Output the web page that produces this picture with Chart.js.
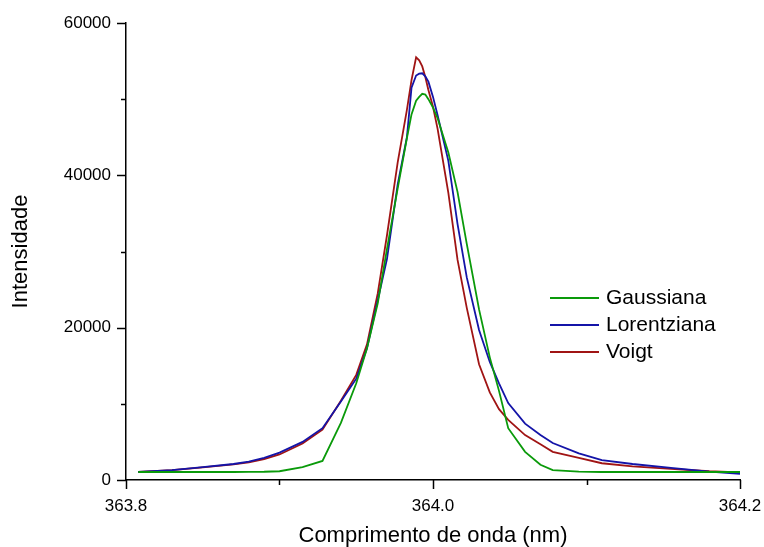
<!DOCTYPE html>
<html>
<head>
<meta charset="utf-8">
<script src="https://cdn.jsdelivr.net/npm/chart.js@4.4.1/dist/chart.umd.min.js"></script>
<style>
  html, body { margin: 0; padding: 0; background: #fff; }
  #wrap { width: 764px; height: 547px; position: relative; }
</style>
</head>
<body>
<div id="wrap"><canvas id="grafico"></canvas></div>
<script>
// ================= DATOS =================
const comprimento = [363.808, 363.83, 363.85, 363.87, 363.88, 363.89, 363.9, 363.915, 363.928, 363.94,
  363.95, 363.957, 363.964, 363.97, 363.977, 363.983, 363.986, 363.989, 363.991, 363.993,
  363.995, 363.997, 364.0, 364.003, 364.01, 364.016, 364.022, 364.03, 364.037, 364.043,
  364.049, 364.06, 364.07, 364.078, 364.095, 364.11, 364.13, 364.155, 364.18, 364.2];

const gaussiana = [1050, 1050, 1050, 1050, 1060, 1080, 1150, 1700, 2500, 7500,
  12700, 17300, 23200, 30300, 38300, 44900, 48000, 49800, 50300, 50700,
  50600, 50000, 48900, 47500, 43000, 37800, 31000, 22400, 16100, 11700,
  6800, 3700, 2000, 1300, 1100, 1050, 1050, 1050, 1050, 1050];

const lorentziana = [1050, 1300, 1700, 2100, 2400, 2900, 3600, 5000, 6800, 10300,
  13300, 17300, 23600, 29000, 38800, 45000, 51500, 53100, 53350, 53400,
  53000, 52300, 50300, 47900, 41900, 33600, 26600, 19700, 15500, 12700,
  10100, 7400, 5900, 4850, 3500, 2600, 2100, 1600, 1100, 800];

const voigt = [1050, 1300, 1650, 2050, 2300, 2750, 3350, 4800, 6600, 10400,
  13800, 17800, 24500, 32100, 41700, 48600, 52500, 55500, 55100, 54300,
  52900, 51200, 49000, 46100, 37700, 28900, 22600, 15200, 11500, 9300,
  7900, 5900, 4700, 3700, 2900, 2200, 1800, 1450, 1150, 1000];

const series = [
  { nome: "Gaussiana", valores: gaussiana, cor: "#0a9a0a" },
  { nome: "Lorentziana", valores: lorentziana, cor: "#1414a8" },
  { nome: "Voigt", valores: voigt, cor: "#a01414" }
];

const ticksX = [363.8, 363.9, 364.0, 364.1, 364.2];
const rotulosX = ["363.8", "", "364.0", "", "364.2"];
const ticksY = [0, 10000, 20000, 30000, 40000, 50000, 60000];
const rotulosY = ["0", "", "20000", "", "40000", "", "60000"];

const FONTE = "'Liberation Sans', Arial, sans-serif";

// ================= PLUGIN: marcas, títulos e legenda =================
const extras = {
  id: "extras",
  afterDraw(chart) {
    const ctx = chart.ctx;
    const sx = chart.scales.x, sy = chart.scales.y;
    const area = chart.chartArea;
    ctx.save();
    ctx.strokeStyle = "#000";
    ctx.lineWidth = 1.5;
    // marcas do eixo x
    ticksX.forEach((v, i) => {
      const px = Math.round(sx.getPixelForValue(v)) + 0.5;
      const len = rotulosX[i] ? 9 : 5;
      ctx.beginPath();
      ctx.moveTo(px, area.bottom);
      ctx.lineTo(px, area.bottom + len);
      ctx.stroke();
    });
    // marcas do eixo y
    ticksY.forEach((v, i) => {
      const py = Math.round(sy.getPixelForValue(v)) + 0.5;
      const len = rotulosY[i] ? 9 : 5;
      ctx.beginPath();
      ctx.moveTo(area.left, py);
      ctx.lineTo(area.left - len, py);
      ctx.stroke();
    });

    // títulos dos eixos
    ctx.fillStyle = "#000";
    ctx.font = "22px " + FONTE;
    ctx.textAlign = "center";
    ctx.textBaseline = "middle";
    ctx.fillText("Comprimento de onda (nm)", (area.left + area.right) / 2, 536);
    ctx.translate(21, (area.top + area.bottom) / 2);
    ctx.rotate(-Math.PI / 2);
    ctx.fillText("Intensidade", 0, 0);
    ctx.setTransform(1, 0, 0, 1, 0, 0);

    // legenda
    ctx.textAlign = "left";
    ctx.font = "21px " + FONTE;
    series.forEach((s, i) => {
      const y = 298 + i * 27;
      ctx.strokeStyle = s.cor;
      ctx.lineWidth = 2;
      ctx.beginPath();
      ctx.moveTo(550, y);
      ctx.lineTo(599, y);
      ctx.stroke();
      ctx.fillStyle = "#000";
      ctx.fillText(s.nome, 606, y);
    });
    ctx.restore();
  }
};

// ================= GRÁFICO =================
new Chart(document.getElementById("grafico"), {
  type: "line",
  data: {
    datasets: series.map(s => ({
      label: s.nome,
      data: comprimento.map((x, i) => ({ x, y: s.valores[i] })),
      borderColor: s.cor,
      borderWidth: 1.8,
      pointRadius: 0,
      fill: false,
      tension: 0
    }))
  },
  options: {
    responsive: true,
    maintainAspectRatio: false,
    animation: false,
    layout: { padding: { top: 23, right: 24, left: 0, bottom: 0 } },
    plugins: { legend: { display: false }, tooltip: { enabled: false } },
    scales: {
      x: {
        type: "linear",
        min: 363.8,
        max: 364.2,
        afterFit: s => { s.height = 67; s.paddingLeft = 0; s.paddingRight = 0; },
        afterBuildTicks: s => { s.ticks = ticksX.map(v => ({ value: v })); },
        grid: { display: false, drawTicks: false },
        border: { display: true, color: "#000", width: 1.5 },
        ticks: {
          padding: 16,
          color: "#000",
          font: { family: FONTE, size: 17 },
          maxRotation: 0,
          callback: (v, i) => rotulosX[i]
        }
      },
      y: {
        min: 0,
        max: 60000,
        afterFit: s => { s.width = 126; s.paddingTop = 0; s.paddingBottom = 0; },
        afterBuildTicks: s => { s.ticks = ticksY.map(v => ({ value: v })); },
        grid: { display: false, drawTicks: false },
        border: { display: true, color: "#000", width: 1.5 },
        ticks: {
          padding: 15,
          color: "#000",
          font: { family: FONTE, size: 17 },
          callback: (v, i) => rotulosY[i]
        }
      }
    }
  },
  plugins: [extras]
});
</script>
</body>
</html>
